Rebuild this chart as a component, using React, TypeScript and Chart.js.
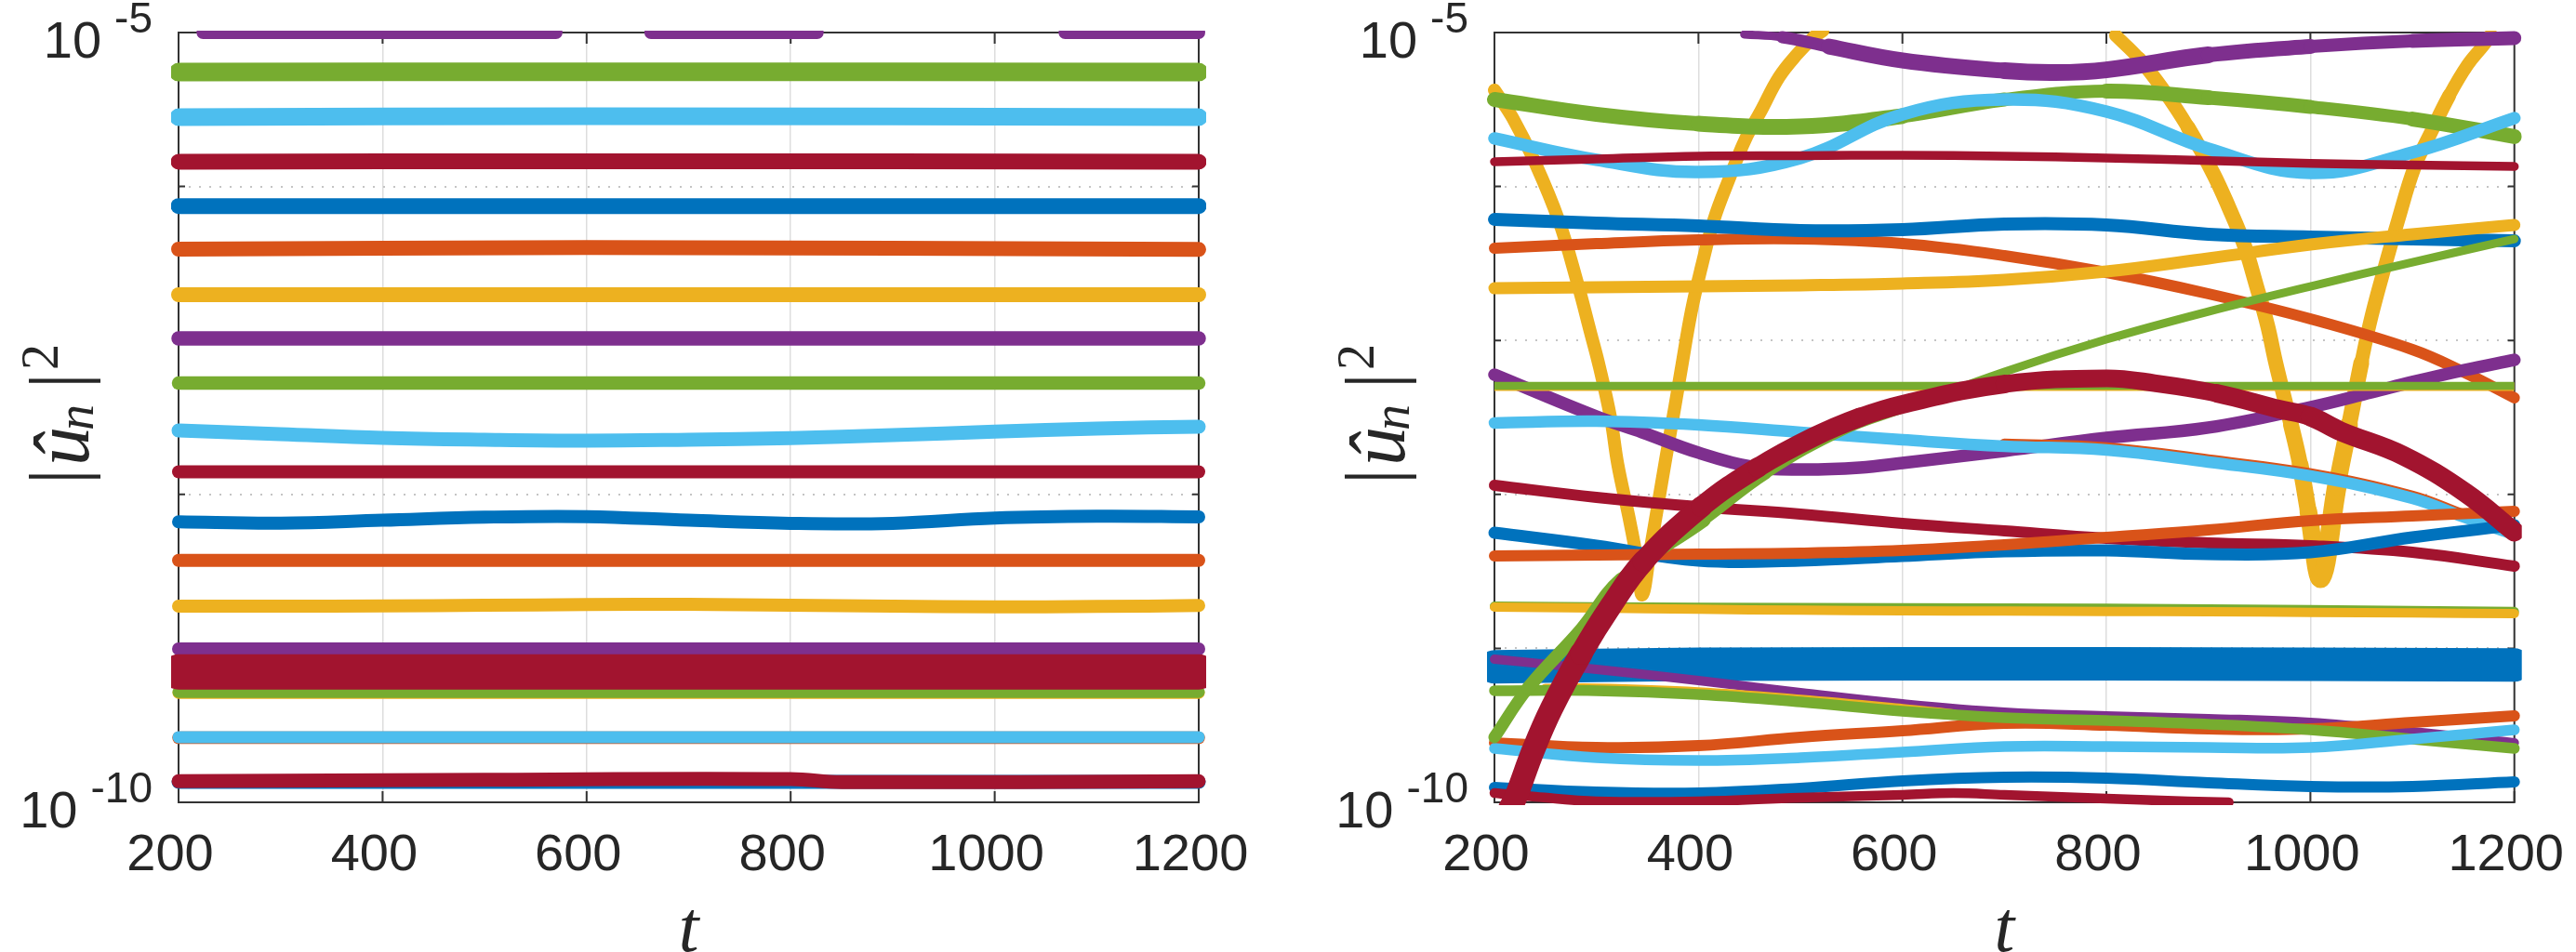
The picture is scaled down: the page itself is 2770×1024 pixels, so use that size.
import React, { useEffect, useRef } from "react";
import Chart from "chart.js/auto";

const blue = "#0072BD";
const orange = "#D95319";
const yellow = "#EDB120";
const purple = "#7E2F8E";
const green = "#77AC30";
const sky = "#4DBEEE";
const red = "#A2142F";

const xTicks = [200, 400, 600, 800, 1000, 1200];
const yTicks = [1e-10, 1e-9, 1e-8, 1e-7, 1e-6, 1e-5];
const yTickExponents = ["-10", "", "", "", "", "-5"];

// every series below holds log10(|u_n|^2)
const tGrid = [200, 300, 400, 500, 600, 700, 800, 900, 1000, 1100, 1200];
const tEnds = [200, 1200];
const tThirds = [200, 600, 1200];

// left panel
const tLTopPurple = [224, 570, 615, 663, 826, 950, 1069, 1200];
const lTopPurple = [-5.0, -5.0, null, -5.0, -5.0, null, -5.0, -5.0];
const lGreen1 = [-5.257, -5.255, -5.257];
const lSky1 = [-5.55, -5.543, -5.55];
const lRed1 = [-5.839, -5.836, -5.839];
const lBlue1 = [-6.127, -6.127];
const lOrange1 = [-6.407, -6.397, -6.409];
const lYellow1 = [-6.703, -6.703];
const lPurple1 = [-6.987, -6.987];
const lGreen2 = [-7.277, -7.277];
const lSky2 = [-7.585, -7.609, -7.633, -7.645, -7.651, -7.645, -7.635, -7.615, -7.592, -7.572, -7.56];
const lRed2 = [-7.853, -7.853];
const lBlue2 = [-8.178, -8.187, -8.168, -8.148, -8.144, -8.168, -8.188, -8.188, -8.154, -8.142, -8.146];
const lOrange2 = [-8.428, -8.428];
const lYellow2 = [-8.726, -8.726, -8.724, -8.72, -8.716, -8.714, -8.72, -8.726, -8.73, -8.728, -8.722];
const lPurple2 = [-9.004, -9.004];
const lRed3 = [-9.153, -9.153];
const lYellow3 = [-9.289, -9.289];
const lGreen3 = [-9.283, -9.283];
const lOrange3 = [-9.581, -9.581];
const lSky3 = [-9.577, -9.577];
const lBlue3 = [-9.867, -9.867];
const tLRed4 = [200, 500, 800, 850, 1200];
const lRed4 = [-9.863, -9.853, -9.849, -9.869, -9.863];

// right panel
const tYellowDipA = [200, 218, 239, 263, 282, 294, 303, 314, 321, 332, 340, 345, 353, 360, 368, 377, 383, 393, 403, 415, 431, 446, 461, 479, 497, 513, 522];
const rYellowDipA = [-5.374, -5.556, -5.833, -6.22, -6.642, -6.944, -7.174, -7.506, -7.808, -8.152, -8.43, -8.653, -8.351, -8.08, -7.766, -7.427, -7.192, -6.812, -6.522, -6.22, -5.936, -5.694, -5.513, -5.29, -5.139, -5.03, -4.988];
const tYellowDipB = [809, 832, 856, 880, 905, 920, 935, 947, 958, 966, 981, 990, 998, 1010, 1026, 1038, 1050, 1060, 1074, 1086, 1102, 1118, 1136, 1154, 1171, 1177];
const rYellowDipB = [-5.018, -5.169, -5.374, -5.616, -5.918, -6.135, -6.377, -6.642, -6.902, -7.144, -7.548, -7.808, -8.11, -8.545, -7.947, -7.548, -7.144, -6.842, -6.498, -6.22, -5.876, -5.652, -5.411, -5.211, -5.072, -5.012];
const tRPurple1 = [445, 482, 528, 600, 700, 750, 800, 900, 1000, 1100, 1200];
const rPurple1 = [-5.012, -5.03, -5.091, -5.181, -5.248, -5.26, -5.242, -5.145, -5.091, -5.054, -5.036];
const rGreen1 = [-5.435, -5.531, -5.592, -5.61, -5.543, -5.435, -5.38, -5.423, -5.483, -5.562, -5.676];
const rSky1 = [-5.688, -5.827, -5.906, -5.815, -5.531, -5.435, -5.513, -5.755, -5.912, -5.779, -5.556];
const rRed1 = [-5.839, -5.821, -5.803, -5.8, -5.797, -5.803, -5.815, -5.832, -5.85, -5.86, -5.87];
const tROrange1 = [200, 300, 400, 500, 600, 700, 800, 900, 1000, 1100, 1150, 1200];
const rOrange1 = [-6.401, -6.371, -6.347, -6.341, -6.371, -6.449, -6.558, -6.697, -6.86, -7.059, -7.204, -7.373];
const rBlue1 = [-6.214, -6.238, -6.256, -6.286, -6.28, -6.244, -6.25, -6.31, -6.328, -6.341, -6.353];
const rYellow1 = [-6.661, -6.655, -6.649, -6.642, -6.63, -6.606, -6.552, -6.467, -6.377, -6.31, -6.25];
const rGreenFlat = [-7.295, -7.295];
const rYellowFlat = [-7.301, -7.301];
const tRPurple2 = [200, 300, 345, 400, 452, 500, 558, 600, 700, 800, 900, 1000, 1060, 1100, 1151, 1200];
const rPurple2 = [-7.222, -7.494, -7.597, -7.729, -7.82, -7.838, -7.826, -7.796, -7.717, -7.633, -7.566, -7.434, -7.337, -7.27, -7.192, -7.126];
const tROrangeHidden = [700, 800, 900, 1000, 1100, 1150, 1200];
const rOrangeHidden = [-7.675, -7.699, -7.778, -7.868, -8.013, -8.134, -8.249];
const tRSky2 = [200, 300, 400, 500, 600, 700, 800, 900, 1000, 1100, 1150, 1200];
const rSky2 = [-7.536, -7.524, -7.548, -7.597, -7.645, -7.687, -7.711, -7.79, -7.88, -8.025, -8.146, -8.261];
const rRed2 = [-7.941, -8.019, -8.08, -8.128, -8.188, -8.237, -8.285, -8.315, -8.333, -8.376, -8.466];
const rBlue2 = [-8.249, -8.333, -8.43, -8.43, -8.4, -8.37, -8.364, -8.388, -8.376, -8.279, -8.2];
const rOrange2 = [-8.4, -8.394, -8.388, -8.382, -8.364, -8.327, -8.279, -8.231, -8.17, -8.14, -8.11];
const tRGreenUnder = [200, 400, 800, 1200];
const rGreenUnder = [-8.726, -8.734, -8.74, -8.76];
const rYellow2 = [-8.732, -8.738, -8.746, -8.752, -8.756, -8.758, -8.76, -8.762, -8.766, -8.77, -8.774];
const tRBlueBand = [200, 400, 800, 1200];
const rBlueBand = [-9.12, -9.104, -9.1, -9.108];
const tRYellowHidden = [250, 300, 400, 500, 600, 650];
const rYellowHidden = [-9.265, -9.263, -9.287, -9.336, -9.396, -9.43];
const rPurple3 = [-9.07, -9.136, -9.209, -9.287, -9.36, -9.414, -9.438, -9.456, -9.481, -9.541, -9.613];
const rOrange3 = [-9.613, -9.644, -9.632, -9.577, -9.535, -9.487, -9.499, -9.523, -9.523, -9.481, -9.438];
const rGreen2 = [-9.275, -9.275, -9.299, -9.348, -9.408, -9.45, -9.469, -9.493, -9.529, -9.589, -9.65];
const rSky3 = [-9.65, -9.71, -9.728, -9.71, -9.674, -9.638, -9.638, -9.644, -9.644, -9.589, -9.529];
const rBlue3 = [-9.903, -9.934, -9.94, -9.909, -9.861, -9.837, -9.843, -9.873, -9.897, -9.897, -9.867];
const tRRed3 = [200, 240, 300, 400, 500, 600, 650, 700, 800, 880, 920];
const rRed3 = [-9.94, -9.964, -9.994, -9.994, -9.97, -9.952, -9.94, -9.952, -9.976, -9.994, -10.0];
const tRGreenRise = [200, 233, 285, 324, 406, 467, 543, 600, 700, 800, 900, 1000, 1100, 1200];
const rGreenRise = [-9.577, -9.257, -8.877, -8.551, -8.17, -7.868, -7.585, -7.446, -7.204, -6.993, -6.812, -6.649, -6.492, -6.341];
const tRRedArch = [215, 221, 238, 256, 285, 314, 346, 403, 458, 513, 558, 600, 700, 800, 847, 908, 969, 1000, 1030, 1091, 1152, 1200];
const rRedArch = [-10.042, -9.964, -9.662, -9.39, -9.034, -8.726, -8.436, -8.08, -7.826, -7.627, -7.5, -7.415, -7.283, -7.246, -7.277, -7.343, -7.446, -7.494, -7.591, -7.748, -7.989, -8.243];

// the bands that swell and narrow along t
const purple1Widths = [9, 13, 17, 17, 18, 18, 18, 16, 14, 15, 17];
const green1Widths = [16, 16, 17, 17, 15, 14, 16, 15, 14, 16, 16];
const archWidths = [25, 25, 25, 25, 24, 24, 23, 22, 21, 21, 20, 20, 19, 19, 19, 20, 20, 21, 21, 21, 21, 21];
const dipBWidths = [14, 15, 15, 16, 16, 16, 16, 16, 16, 16, 17, 18, 19, 21, 19, 17, 15, 15, 15, 15, 15, 15, 14, 14, 14, 14];
const greenRiseWidths = [13, 14, 14, 13, 10, 9, 9, 9, 9, 9, 9, 9, 9, 9];

type Series = { t: number[]; v: (number | null)[]; color: string; width: number; square?: boolean; widths?: number[] };

const s = (t: number[], v: (number | null)[], color: string, width: number, square = false, widths?: number[]): Series => ({ t, v, color, width, square, widths });

// listed from the bottom of the stack to the top
const leftSeries: Series[] = [
  s(tLTopPurple, lTopPurple, purple, 14),
  s(tThirds, lGreen1, green, 20),
  s(tThirds, lSky1, sky, 19),
  s(tThirds, lRed1, red, 17),
  s(tEnds, lBlue1, blue, 17),
  s(tThirds, lOrange1, orange, 16),
  s(tEnds, lYellow1, yellow, 16),
  s(tEnds, lPurple1, purple, 15.5),
  s(tEnds, lGreen2, green, 14.5),
  s(tGrid, lSky2, sky, 15),
  s(tEnds, lRed2, red, 14),
  s(tGrid, lBlue2, blue, 14),
  s(tEnds, lOrange2, orange, 14),
  s(tGrid, lYellow2, yellow, 14),
  s(tEnds, lPurple2, purple, 14),
  s(tEnds, lYellow3, yellow, 13),
  s(tEnds, lGreen3, green, 13),
  s(tEnds, lRed3, red, 38),
  s(tEnds, lOrange3, orange, 13.5),
  s(tEnds, lSky3, sky, 13),
  s(tEnds, lBlue3, blue, 15),
  s(tLRed4, lRed4, red, 15),
];

const rightSeries: Series[] = [
  s(tYellowDipA, rYellowDipA, yellow, 14),
  s(tYellowDipB, rYellowDipB, yellow, 15, false, dipBWidths),
  s(tRPurple1, rPurple1, purple, 17, false, purple1Widths),
  s(tGrid, rGreen1, green, 16, false, green1Widths),
  s(tGrid, rSky1, sky, 13.5),
  s(tGrid, rRed1, red, 9.5),
  s(tROrange1, rOrange1, orange, 12),
  s(tGrid, rBlue1, blue, 14),
  s(tGrid, rYellow1, yellow, 13),
  s(tRPurple2, rPurple2, purple, 13.5),
  s(tROrangeHidden, rOrangeHidden, orange, 12.5),
  s(tRSky2, rSky2, sky, 12.5),
  s(tGrid, rRed2, red, 12),
  s(tGrid, rBlue2, blue, 13),
  s(tGrid, rOrange2, orange, 12),
  s(tRGreenUnder, rGreenUnder, green, 10),
  s(tGrid, rYellow2, yellow, 10),
  s(tRBlueBand, rBlueBand, blue, 36),
  s(tGrid, rPurple3, purple, 10),
  s(tGrid, rOrange3, orange, 12),
  s(tRYellowHidden, rYellowHidden, yellow, 11.5),
  s(tGrid, rGreen2, green, 11.5),
  s(tGrid, rSky3, sky, 11.5),
  s(tGrid, rBlue3, blue, 12),
  s(tRRed3, rRed3, red, 10.5),
  s(tEnds, rYellowFlat, yellow, 9, true),
  s(tEnds, rGreenFlat, green, 8.5, true),
  s(tRGreenRise, rGreenRise, green, 10, false, greenRiseWidths),
  s(tRRedArch, rRedArch, red, 21, false, archWidths),
];

const ink = "#262626";
const sans = '"Liberation Sans", sans-serif';
const serif = '"Liberation Serif", serif';

const decorations = {
  id: "decorations",
  beforeDatasetsDraw(chart: any) {
    const { ctx, chartArea: a, scales } = chart;
    ctx.save();
    ctx.strokeStyle = "#333333";
    ctx.lineWidth = 2;
    ctx.strokeRect(a.left, a.top, a.right - a.left, a.bottom - a.top);
    ctx.beginPath();
    scales.x.ticks.forEach((tick: any) => {
      const x = scales.x.getPixelForValue(tick.value);
      ctx.moveTo(x, a.top);
      ctx.lineTo(x, a.top + 12);
      ctx.moveTo(x, a.bottom);
      ctx.lineTo(x, a.bottom - 12);
    });
    yTicks.forEach((v) => {
      const y = scales.y.getPixelForValue(v);
      ctx.moveTo(a.left, y);
      ctx.lineTo(a.left + 7, y);
      ctx.moveTo(a.right, y);
      ctx.lineTo(a.right - 7, y);
    });
    ctx.stroke();
    ctx.restore();
  },
  afterDraw(chart: any) {
    const { ctx, chartArea: a, scales } = chart;
    ctx.save();
    ctx.fillStyle = ink;
    ctx.textBaseline = "alphabetic";
    ctx.textAlign = "right";
    yTicks.forEach((v, i) => {
      const exp = yTickExponents[i];
      if (!exp) return;
      const y = scales.y.getPixelForValue(v);
      ctx.font = `46px ${sans}`;
      const right = a.left - 28;
      ctx.fillText(exp, right, y);
      const w = ctx.measureText(exp).width;
      ctx.font = `56px ${sans}`;
      ctx.fillText("10", right - w - 14, y + 27);
    });

    // |û_n|² rotated along the left side
    const put = (text: string, font: string, base: number, along: number) => {
      ctx.save();
      ctx.translate(a.left - 192 + base, along);
      ctx.rotate(-Math.PI / 2);
      ctx.font = font;
      ctx.textAlign = "left";
      ctx.fillText(text, 0, 0);
      ctx.restore();
    };
    put("|", `84px ${serif}`, 90, 521);
    put("û", `italic 84px ${serif}`, 95, 501);
    put("n", `italic 56px ${serif}`, 100, 463);
    put("|", `84px ${serif}`, 90, 418);
    put("2", `56px ${serif}`, 62, 398);
    ctx.restore();
  },
};

function Panel({ series, left, width, axisWidth, rightPad }: { series: Series[]; left: number; width: number; axisWidth: number; rightPad: number }) {
  const ref = useRef<HTMLCanvasElement | null>(null);

  useEffect(() => {
    if (!ref.current) return;
    const chart = new Chart(ref.current, {
      type: "line",
      plugins: [decorations],
      data: {
        datasets: series.map((d, i) => ({
          data: d.t.map((t, j) => ({ x: t, y: d.v[j] === null ? null : Math.pow(10, d.v[j] as number) })),
          borderColor: d.color,
          borderWidth: d.width,
          borderCapStyle: d.square ? "butt" : "round",
          borderJoinStyle: "round",
          tension: 0.4,
          pointRadius: 0,
          order: series.length - i,
          clip: d.square ? 0 : { left: 8, right: 8, top: 2, bottom: 3 },
          segment: d.widths ? { borderWidth: (c: any) => d.widths![c.p0DataIndex] } : undefined,
        })),
      } as any,
      options: {
        animation: false,
        responsive: false,
        devicePixelRatio: 1,
        events: [],
        layout: { padding: { top: 35, right: rightPad, left: 0, bottom: 0 } },
        plugins: { legend: { display: false }, tooltip: { enabled: false } },
        scales: {
          x: {
            type: "linear",
            min: 200,
            max: 1200,
            afterBuildTicks: (scale: any) => {
              scale.ticks = xTicks.map((value) => ({ value }));
            },
            afterFit: (scale: any) => {
              scale.height = 161;
            },
            grid: { color: "#dddddd", lineWidth: 1.5, drawTicks: false },
            border: { display: false },
            ticks: {
              autoSkip: false,
              maxRotation: 0,
              padding: 24,
              labelOffset: -9,
              color: ink,
              font: { family: "Liberation Sans", size: 56 },
              callback: (v: any) => String(v),
            },
            title: {
              display: true,
              text: "t",
              color: ink,
              font: { family: "Liberation Serif", style: "italic", size: 78 },
              padding: { top: 0, bottom: -25 },
            },
          },
          y: {
            type: "logarithmic",
            min: 1e-10,
            max: 1e-5,
            afterBuildTicks: (scale: any) => {
              scale.ticks = yTicks.map((value) => ({ value, major: true }));
            },
            afterFit: (scale: any) => {
              scale.width = axisWidth;
            },
            grid: { color: "#c4c4c4", lineWidth: 2, drawTicks: false },
            border: { display: false, dash: [2, 9] },
            ticks: { display: false, autoSkip: false },
          },
        },
      } as any,
    });
    return () => chart.destroy();
  }, []);

  return (
    <canvas
      ref={ref}
      width={width}
      height={1024}
      style={{ position: "absolute", left, top: 0, width, height: 1024, display: "block" }}
    />
  );
}

export default function App() {
  return (
    <div style={{ position: "fixed", left: 0, top: 0, width: 2770, height: 1024, background: "#fff", overflow: "hidden" }}>
      <Panel series={leftSeries} left={0} width={1385} axisWidth={192} rightPad={96} />
      <Panel series={rightSeries} left={1385} width={1405} axisWidth={222} rightPad={86} />
    </div>
  );
}
